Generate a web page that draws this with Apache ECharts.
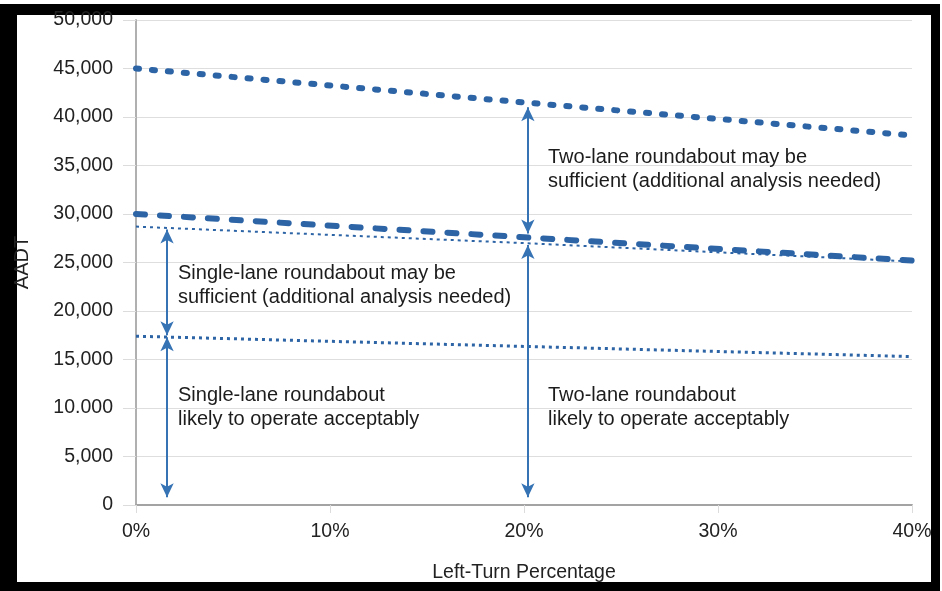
<!DOCTYPE html>
<html>
<head>
<meta charset="utf-8">
<script src="https://cdn.jsdelivr.net/npm/echarts@6/dist/echarts.min.js"></script>
<style>html,body{margin:0;padding:0;background:#fff}#c{width:942px;height:591px}</style>
</head>
<body>
<div id="c"></div>
<script>
// ---- data ----
const pct = [0, 20, 40];
const twoLaneUpper = [45000, 41500, 38100];
const twoLaneLower = [30000, 27600, 25200];
const singleLaneUpper = [28700, 27000, 25100];
const singleLaneLower = [17400, 16350, 15300];
const yTickLabels = ['0', '5,000', '10.000', '15,000', '20,000', '25,000', '30,000', '35,000', '40,000', '45,000', '50,000'];
// arrows: [x%, fromAADT, toAADT]
const arrows = [
  [1.6, 800, 17300],
  [1.6, 17500, 28400],
  [20.2, 800, 26800],
  [20.2, 28000, 41000]
];
const notes = [
  'Two-lane roundabout may be\nsufficient (additional analysis needed)',
  'Single-lane roundabout may be\nsufficient (additional analysis needed)',
  'Single-lane roundabout\nlikely to operate acceptably',
  'Two-lane roundabout\nlikely to operate acceptably'
];

const FONT = '"Liberation Sans", Arial, sans-serif';
const BLUE = '#2c64a6';
const ARROW = '#3673b4';
const pair = (ys) => pct.map((x, i) => [x, ys[i]]);

const chart = echarts.init(document.getElementById('c'), null, {renderer: 'canvas'});
const noteStyle = (x, y, t) => ({
  type: 'text', left: x, top: y, z: 50,
  style: {text: t, font: '20px ' + FONT, fill: '#1c1c1c', lineHeight: 24.5}
});
chart.setOption({
  animation: false,
  backgroundColor: '#ffffff',
  grid: {left: 136, right: 30, top: 20, bottom: 86},
  xAxis: {
    type: 'value', min: 0, max: 40, interval: 10,
    name: 'Left-Turn Percentage', nameLocation: 'middle', nameGap: 58,
    nameTextStyle: {fontFamily: FONT, fontSize: 19.5, color: '#222'},
    axisLine: {show: true, lineStyle: {color: '#a3a3a3', width: 2}},
    axisTick: {show: true, length: 8, lineStyle: {color: '#dcdcdc'}},
    axisLabel: {formatter: '{value}%', fontFamily: FONT, fontSize: 19.5, color: '#222', margin: 17},
    splitLine: {show: false}
  },
  yAxis: {
    type: 'value', min: 0, max: 50000, interval: 5000,
    name: 'AADT', nameLocation: 'middle', nameGap: 104, nameRotate: 90,
    nameTextStyle: {fontFamily: FONT, fontSize: 20, color: '#222'},
    axisLine: {show: true, lineStyle: {color: '#b0b0b0', width: 2}},
    axisTick: {show: true, length: 13, lineStyle: {color: '#dcdcdc'}},
    axisLabel: {
      formatter: (v) => yTickLabels[Math.round(v / 5000)],
      fontFamily: FONT, fontSize: 19.5, color: '#222', margin: 23
    },
    splitLine: {show: true, lineStyle: {color: '#dedede', width: 1}}
  },
  series: [
    {type: 'line', data: pair(twoLaneUpper), symbol: 'none', z: 3,
     lineStyle: {color: BLUE, width: 6, type: [3, 13], cap: 'round'}},
    {type: 'line', data: pair(twoLaneLower), symbol: 'none', z: 3,
     lineStyle: {color: BLUE, width: 6, type: [9, 15], cap: 'round'}},
    {type: 'line', data: pair(singleLaneUpper), symbol: 'none', z: 3,
     lineStyle: {color: BLUE, width: 2, type: [3, 4]}},
    {type: 'line', data: pair(singleLaneLower), symbol: 'none', z: 3,
     lineStyle: {color: BLUE, width: 3, type: [3, 4]},
     markLine: {
       silent: true, symbol: ['arrow', 'arrow'], symbolSize: [10, 14],
       label: {show: false},
       lineStyle: {color: ARROW, width: 2, type: 'solid'},
       data: arrows.map(a => [{coord: [a[0], a[1]]}, {coord: [a[0], a[2]]}])
     }}
  ],
  graphic: [
    {type: 'rect', z: -20, shape: {x: 0, y: 4, width: 940, height: 587}, style: {fill: '#000'}},
    {type: 'rect', z: -19, shape: {x: 17, y: 15, width: 914, height: 567}, style: {fill: '#fff'}},
    noteStyle(548, 145, notes[0]),
    noteStyle(178, 261, notes[1]),
    noteStyle(178, 383, notes[2]),
    noteStyle(548, 383, notes[3])
  ]
});
</script>
</body>
</html>
